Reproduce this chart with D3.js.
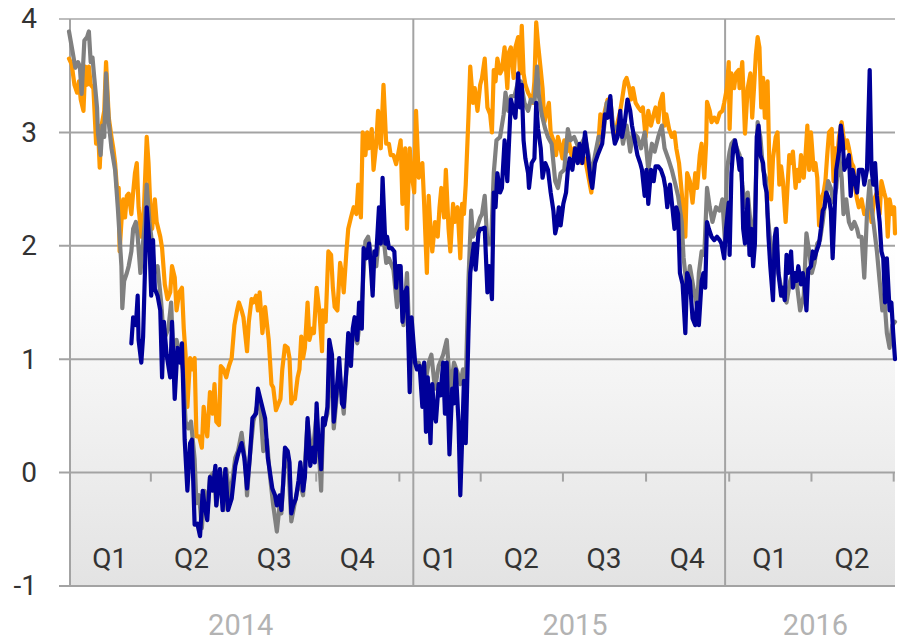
<!DOCTYPE html>
<html>
<head>
<meta charset="utf-8">
<script src="https://cdn.jsdelivr.net/npm/d3@7/dist/d3.min.js"></script>
<style>
  html, body { margin: 0; padding: 0; background: #ffffff; }
  svg { display: block; }
  text { font-family: Roboto, "Noto Sans", sans-serif; }
</style>
</head>
<body>
<svg id="chart" width="910" height="641"></svg>
<script>
// ---- DATA (x = days since 2014-01-01, y = value) ----
const startDate = "2014-01-01";
const totalDays = 914;
const yTicks = [-1, 0, 1, 2, 3, 4];
const yTickLabels = ["-1", "0", "1", "2", "3", "4"];
const quarterLabels = ["Q1", "Q2", "Q3", "Q4", "Q1", "Q2", "Q3", "Q4", "Q1", "Q2"];
const years = ["2014", "2015", "2016"];
const yearBreakDays = [381, 726];
const yearLabelDays = [190, 560, 826];

const seriesOrange = [[0,3.65],[3,3.60],[6,3.42],[9,3.35],[11,3.45],[13,3.29],[16,3.19],[18,3.58],[20,3.42],[22,3.58],[24,3.42],[27,3.39],[30,2.90],[32,3.06],[34,2.69],[36,3.06],[39,3.19],[41,3.62],[44,3.13],[47,2.96],[49,2.86],[51,2.73],[53,2.51],[55,2.51],[56,1.95],[58,2.21],[60,2.41],[62,2.25],[64,2.44],[66,2.46],[69,2.28],[71,2.47],[73,2.64],[75,2.73],[77,2.34],[80,2.08],[83,2.34],[86,2.96],[88,2.73],[90,2.34],[92,2.15],[95,2.41],[97,2.21],[101,2.08],[103,1.98],[106,1.66],[109,1.53],[112,1.59],[114,1.82],[117,1.72],[119,1.43],[122,1.59],[125,1.63],[127,1.27],[129,1.04],[131,0.58],[134,1.01],[136,0.91],[139,1.01],[141,0.32],[144,0.32],[147,0.22],[149,0.58],[151,0.42],[153,0.32],[156,0.71],[159,0.52],[161,0.78],[163,0.45],[166,0.42],[168,0.94],[171,0.91],[174,0.84],[177,0.94],[180,1.01],[183,1.30],[186,1.43],[188,1.50],[191,1.43],[193,1.37],[197,1.07],[199,1.33],[202,1.53],[204,1.50],[207,1.56],[209,1.43],[211,1.59],[214,1.23],[217,1.46],[221,1.17],[224,0.78],[226,0.75],[229,0.55],[232,0.61],[234,0.65],[236,0.91],[239,1.12],[242,1.10],[244,1.01],[246,0.61],[248,0.65],[250,0.65],[253,0.84],[255,0.91],[257,1.20],[259,1.01],[261,1.10],[264,1.50],[266,1.17],[269,1.27],[271,1.23],[274,1.63],[277,1.43],[280,1.07],[281,1.43],[284,1.33],[287,1.95],[290,1.92],[292,1.63],[294,1.46],[297,1.43],[300,1.85],[302,1.76],[304,1.59],[307,1.95],[309,2.15],[312,2.25],[315,2.34],[318,2.28],[320,2.54],[323,2.25],[325,3.0],[328,2.80],[330,3.0],[332,2.86],[335,3.03],[337,2.67],[340,2.90],[342,3.19],[345,2.86],[348,3.42],[351,2.90],[354,2.90],[356,2.80],[359,2.80],[362,2.72],[364,2.80],[367,2.93],[369,2.37],[372,2.86],[374,2.15],[377,2.86],[379,2.64],[382,2.47],[384,3.19],[387,2.60],[389,2.67],[391,2.73],[393,2.37],[396,1.76],[398,2.44],[400,2.15],[402,1.95],[405,2.21],[408,2.08],[410,2.34],[412,2.51],[415,2.25],[417,2.67],[420,2.15],[422,1.95],[425,2.37],[427,2.21],[430,2.34],[433,1.89],[435,2.37],[437,2.28],[439,2.54],[442,3.13],[444,3.58],[447,3.26],[449,3.39],[452,3.19],[455,3.42],[457,3.48],[460,3.65],[463,3.22],[466,3.16],[468,3.0],[470,3.55],[472,3.45],[474,3.65],[477,3.52],[479,3.55],[482,3.75],[485,3.39],[487,3.71],[489,3.75],[492,3.48],[494,3.75],[497,3.84],[499,3.52],[501,3.94],[503,3.52],[505,3.42],[508,3.35],[510,3.32],[513,3.26],[515,3.45],[517,3.97],[519,3.78],[522,3.55],[524,3.39],[526,3.09],[529,3.19],[531,3.26],[533,3.0],[536,2.93],[539,2.80],[541,2.96],[543,2.90],[546,2.77],[548,2.93],[551,2.83],[553,2.93],[556,2.80],[559,2.86],[562,2.77],[564,2.86],[567,2.73],[571,2.77],[575,2.60],[578,2.47],[580,2.67],[583,2.80],[586,2.93],[588,3.16],[590,3.06],[593,3.19],[596,3.29],[599,3.29],[601,3.09],[604,2.96],[607,3.09],[610,3.19],[612,3.29],[615,3.45],[617,3.48],[620,3.39],[622,3.29],[624,3.39],[627,3.26],[630,3.22],[633,3.19],[635,3.22],[638,2.96],[641,3.19],[644,3.06],[647,3.16],[649,3.22],[652,3.09],[654,3.26],[657,3.34],[659,3.06],[661,3.16],[664,3.03],[667,2.96],[670,3.0],[672,2.86],[675,2.73],[678,2.47],[682,2.08],[684,2.64],[687,2.57],[690,2.38],[693,2.64],[695,2.51],[698,2.80],[700,2.90],[703,2.60],[705,2.90],[706,3.27],[709,3.19],[711,3.09],[714,3.13],[717,3.09],[720,3.17],[723,3.19],[725,3.26],[728,3.39],[730,3.62],[731,3.03],[733,3.52],[736,3.39],[738,3.52],[741,3.55],[742,3.39],[745,3.62],[748,2.99],[751,3.39],[754,3.52],[756,3.13],[758,3.39],[760,3.68],[762,3.84],[764,3.75],[766,3.22],[768,3.48],[770,3.13],[773,3.45],[775,2.70],[777,2.41],[779,2.77],[782,2.96],[784,3.0],[786,2.54],[788,2.70],[790,2.57],[793,2.21],[795,2.51],[797,2.80],[799,2.73],[801,2.83],[804,2.51],[806,2.67],[808,2.57],[810,2.80],[813,2.60],[815,2.80],[817,3.06],[819,2.67],[821,3.0],[824,2.67],[826,2.73],[828,2.60],[830,2.18],[832,2.41],[835,2.47],[837,2.57],[839,2.80],[841,3.0],[844,3.03],[846,2.57],[848,2.86],[850,2.77],[852,2.96],[855,3.09],[857,2.96],[859,2.86],[861,2.93],[863,2.86],[866,2.73],[868,2.70],[870,2.51],[872,2.41],[874,2.34],[877,2.41],[880,2.28],[883,2.31],[886,2.34],[888,2.21],[891,2.41],[894,2.47],[897,2.28],[899,2.57],[902,2.47],[904,2.41],[906,2.08],[908,2.41],[911,2.28],[913,2.34],[914,2.11]];

const seriesGrey = [[0,3.89],[4,3.71],[7,3.57],[10,3.62],[12,3.58],[14,3.34],[17,3.81],[20,3.84],[22,3.89],[24,3.62],[26,3.66],[28,3.48],[31,3.22],[32,3.0],[35,2.80],[37,3.06],[39,2.96],[41,3.52],[44,3.09],[47,2.86],[51,2.67],[54,2.34],[56,2.08],[58,1.82],[59,1.45],[61,1.69],[64,1.76],[66,1.82],[69,1.95],[71,2.15],[74,2.21],[76,2.08],[79,1.76],[81,1.95],[84,2.21],[86,2.54],[89,2.21],[92,2.02],[94,1.76],[98,1.82],[102,1.50],[105,1.17],[110,1.27],[113,1.50],[115,1.10],[119,1.17],[123,1.04],[126,0.91],[129,0.45],[132,0.39],[135,0.45],[139,0.12],[141,-0.27],[144,-0.20],[147,-0.49],[150,-0.16],[153,-0.36],[156,-0.04],[160,0.0],[163,-0.29],[167,0.03],[171,-0.33],[174,0.03],[178,-0.23],[184,0.13],[187,0.19],[191,0.35],[195,0.09],[197,-0.20],[200,0.13],[204,0.45],[208,0.58],[211,0.65],[215,0.19],[219,0.29],[222,0.0],[226,-0.29],[230,-0.52],[233,-0.29],[235,-0.36],[239,0.19],[243,0.03],[246,-0.43],[250,-0.26],[255,-0.07],[259,-0.20],[264,0.45],[269,0.13],[274,0.52],[279,-0.16],[281,0.39],[286,0.52],[289,1.10],[293,0.39],[299,0.91],[304,0.52],[309,1.17],[315,1.23],[319,1.14],[324,1.50],[328,2.04],[331,2.08],[335,1.89],[340,1.82],[343,2.08],[348,2.08],[351,1.85],[354,1.89],[359,1.79],[363,1.46],[366,1.76],[370,1.30],[374,1.76],[377,1.10],[382,0.97],[387,0.97],[390,0.91],[394,0.78],[398,0.97],[401,1.04],[405,0.74],[409,0.94],[414,1.04],[418,1.17],[422,0.71],[426,0.97],[430,0.88],[433,0.78],[436,0.91],[439,0.78],[442,1.69],[445,2.31],[447,2.08],[451,2.15],[455,2.25],[457,2.28],[460,2.44],[463,2.02],[467,2.02],[470,2.64],[473,2.93],[477,2.96],[481,3.16],[483,3.35],[486,3.19],[489,3.32],[493,3.32],[497,3.45],[500,3.45],[504,3.26],[508,3.19],[511,3.29],[515,3.26],[518,3.58],[520,3.32],[523,3.16],[527,3.03],[530,2.96],[534,2.90],[538,2.57],[541,2.51],[544,2.64],[548,2.67],[552,3.03],[555,2.93],[559,2.96],[564,2.86],[567,2.90],[571,2.96],[575,2.80],[578,2.60],[582,2.80],[586,2.96],[591,2.96],[595,3.26],[599,3.29],[602,3.06],[606,3.03],[610,3.09],[613,2.90],[617,3.06],[621,2.83],[624,3.0],[629,2.96],[633,2.86],[637,3.0],[641,2.67],[645,2.90],[648,2.83],[652,2.96],[656,3.06],[659,2.86],[663,2.77],[667,2.67],[671,2.54],[674,2.44],[678,2.21],[680,1.90],[684,1.60],[687,1.82],[691,1.63],[695,1.46],[697,1.76],[700,1.95],[703,1.92],[706,2.51],[709,2.34],[712,2.21],[716,2.34],[720,2.31],[723,2.41],[726,2.02],[728,2.67],[731,2.83],[733,2.90],[736,2.93],[739,2.86],[742,2.80],[745,2.54],[748,2.34],[751,2.47],[754,2.21],[757,2.08],[759,2.28],[762,3.09],[765,2.96],[768,2.67],[771,2.60],[773,2.28],[777,1.95],[779,1.76],[782,2.15],[785,1.76],[788,1.63],[791,1.56],[794,1.50],[798,1.69],[801,1.76],[805,1.69],[809,1.43],[813,1.56],[816,2.11],[819,1.95],[822,1.76],[825,1.85],[828,2.02],[831,2.05],[834,2.21],[837,2.41],[840,2.57],[843,2.51],[846,2.38],[849,2.51],[852,2.80],[855,2.60],[857,2.28],[860,2.41],[863,2.21],[866,2.15],[869,2.21],[872,2.15],[874,2.08],[877,2.08],[880,1.72],[883,2.28],[886,2.57],[888,2.34],[891,2.15],[894,1.95],[897,1.69],[900,1.43],[902,1.56],[905,1.23],[908,1.10],[911,1.30],[914,1.33]];

const seriesNavy = [[69,1.14],[71,1.37],[74,1.30],[76,1.56],[77,1.17],[80,0.97],[82,1.20],[84,1.76],[86,2.34],[89,2.02],[91,1.56],[93,2.05],[95,1.62],[98,1.56],[101,1.43],[103,0.84],[105,1.33],[108,1.04],[112,0.84],[114,1.33],[117,0.65],[120,1.10],[123,0.97],[125,1.14],[128,0.29],[131,-0.16],[134,0.26],[136,0.29],[139,-0.46],[142,-0.45],[145,-0.56],[148,-0.16],[150,-0.29],[153,-0.42],[156,-0.04],[159,-0.16],[162,0.06],[163,-0.29],[167,0.03],[170,-0.33],[173,0.03],[176,-0.33],[180,-0.23],[184,0.06],[187,0.16],[191,0.26],[194,0.13],[197,-0.14],[200,0.13],[203,0.48],[207,0.52],[209,0.74],[213,0.61],[217,0.48],[220,0.13],[225,-0.14],[228,-0.20],[230,-0.29],[233,-0.20],[235,-0.33],[237,-0.10],[239,0.22],[242,0.19],[244,0.09],[246,-0.36],[248,-0.29],[251,-0.23],[254,-0.07],[256,0.09],[259,-0.16],[261,-0.04],[264,0.48],[267,0.06],[270,0.22],[272,0.09],[274,0.61],[276,0.29],[279,0.03],[281,0.48],[283,0.42],[286,0.58],[288,1.17],[291,1.04],[293,0.45],[296,0.71],[299,1.01],[302,0.61],[304,0.58],[307,0.91],[309,1.23],[312,0.94],[314,1.27],[316,1.37],[319,1.17],[321,1.50],[324,1.27],[326,1.98],[329,1.89],[332,2.02],[334,1.82],[336,1.56],[338,1.95],[340,1.92],[343,2.34],[345,2.02],[347,2.60],[350,2.02],[352,2.08],[354,1.98],[357,1.98],[360,1.95],[362,1.63],[364,1.82],[367,1.82],[369,1.33],[372,1.59],[374,1.63],[377,0.71],[379,1.37],[381,1.17],[383,0.97],[385,0.91],[388,0.94],[391,0.58],[393,0.97],[395,0.36],[397,0.84],[400,0.26],[402,0.78],[404,0.52],[406,0.45],[409,0.78],[411,0.68],[414,0.97],[416,0.52],[418,0.97],[421,0.16],[424,0.74],[426,0.61],[428,0.91],[431,0.45],[433,-0.20],[435,0.29],[437,0.81],[439,0.26],[442,1.23],[444,1.76],[446,1.89],[448,2.02],[450,1.79],[453,2.11],[455,2.15],[457,2.15],[460,2.16],[463,1.59],[465,1.82],[468,1.53],[470,2.47],[472,2.34],[474,2.64],[477,2.47],[479,2.51],[482,2.93],[485,2.57],[487,2.93],[489,3.29],[492,3.19],[494,3.13],[497,3.52],[499,3.22],[501,3.42],[503,2.93],[505,2.77],[508,2.64],[509,2.51],[512,2.73],[515,2.77],[517,3.26],[519,3.03],[522,2.86],[524,2.60],[527,2.73],[530,2.67],[533,2.47],[536,2.31],[538,2.11],[540,2.18],[542,2.34],[544,2.18],[547,2.37],[550,2.47],[552,2.67],[554,2.77],[557,2.67],[560,2.86],[563,2.73],[565,2.90],[568,2.73],[571,3.0],[574,2.80],[577,2.60],[579,2.51],[582,2.73],[585,2.80],[588,2.86],[590,2.90],[593,3.16],[596,3.13],[599,3.32],[601,3.06],[604,2.90],[607,2.96],[610,3.19],[612,2.96],[615,3.09],[618,3.29],[621,3.19],[623,3.06],[626,2.93],[629,2.80],[632,2.73],[634,2.67],[637,2.44],[639,2.67],[641,2.37],[644,2.67],[647,2.57],[649,2.70],[652,2.70],[655,2.67],[658,2.60],[660,2.51],[662,2.34],[665,2.54],[668,2.31],[670,2.15],[672,2.34],[674,2.28],[676,1.76],[679,1.66],[682,1.23],[684,1.76],[687,1.69],[690,1.36],[693,1.30],[695,1.50],[697,1.30],[700,1.69],[702,1.76],[704,1.63],[706,2.21],[708,2.15],[711,2.08],[714,2.05],[717,2.08],[720,2.05],[722,2.02],[725,1.89],[727,2.15],[730,2.38],[731,1.92],[733,2.64],[735,2.86],[737,2.93],[740,2.80],[742,2.67],[744,2.77],[746,2.15],[748,2.02],[751,2.41],[753,1.92],[755,2.15],[757,1.82],[759,2.02],[761,2.96],[763,3.06],[765,2.80],[768,2.73],[770,2.54],[772,2.47],[774,2.08],[776,1.82],[779,1.52],[781,2.08],[783,2.15],[785,1.76],[788,1.56],[790,1.63],[792,1.52],[794,1.92],[796,1.76],[799,1.95],[801,1.63],[803,1.76],[805,1.69],[807,1.82],[810,1.66],[812,1.76],[814,1.66],[816,1.43],[818,1.79],[821,1.82],[823,1.95],[825,1.89],[827,1.95],[830,2.02],[832,2.15],[834,2.31],[836,2.34],[838,2.47],[841,2.41],[843,2.31],[845,1.89],[847,2.28],[849,2.67],[852,2.83],[854,3.06],[856,2.93],[858,2.67],[861,2.73],[863,2.80],[865,2.44],[867,2.67],[869,2.60],[872,2.47],[874,2.67],[876,2.67],[878,2.67],[880,2.54],[883,2.67],[886,3.55],[888,2.67],[890,2.54],[892,2.73],[894,2.44],[897,2.21],[899,1.95],[901,1.89],[903,1.50],[905,1.89],[908,1.43],[910,1.50],[912,1.23],[914,1.0]];

const seriesList = [
  { name: "orange", color: "#FF9900", data: seriesOrange },
  { name: "grey",   color: "#808080", data: seriesGrey },
  { name: "navy",   color: "#000099", data: seriesNavy }
];

// ---- LAYOUT ----
const plot = { left: 70, right: 895, top: 19, bottom: 586 };

const svg = d3.select("#chart");
const base = d3.timeParse("%Y-%m-%d")(startDate);
const endDate = d3.timeDay.offset(base, totalDays);
const dayToDate = d => d3.timeDay.offset(base, d);

const x = d3.scaleTime().domain([base, endDate]).range([69, plot.right]);
const y = d3.scaleLinear().domain([-1, 4]).range([plot.bottom, plot.top]);

// background gradient
const defs = svg.append("defs");
const grad = defs.append("linearGradient").attr("id", "bg")
  .attr("x1", 0).attr("y1", 0).attr("x2", 0).attr("y2", 1);
grad.append("stop").attr("offset", "0%").attr("stop-color", "#ffffff");
grad.append("stop").attr("offset", "40%").attr("stop-color", "#ffffff");
grad.append("stop").attr("offset", "100%").attr("stop-color", "#e3e3e3");

svg.append("rect")
  .attr("x", plot.left).attr("y", plot.top)
  .attr("width", plot.right - plot.left).attr("height", plot.bottom - plot.top)
  .attr("fill", "url(#bg)");

// horizontal gridlines
svg.append("g").selectAll("line").data(yTicks).join("line")
  .attr("x1", plot.left - 11).attr("x2", plot.right)
  .attr("y1", d => y(d)).attr("y2", d => y(d))
  .attr("stroke", d => d === 4 ? "#bdbdbd" : "#a3a3a3")
  .attr("stroke-width", 2);

// y axis labels via d3 axis
const yAxis = d3.axisLeft(y).tickValues(yTicks)
  .tickFormat((d, i) => yTickLabels[i]).tickSize(0).tickPadding(33);
const gy = svg.append("g").attr("transform", `translate(${plot.left},0)`).call(yAxis);
gy.select(".domain").remove();
gy.selectAll("text")
  .attr("font-family", "Roboto, sans-serif")
  .attr("font-size", 28).attr("font-weight", 400)
  .attr("fill", "#333333");

// left axis line
svg.append("line")
  .attr("x1", plot.left).attr("x2", plot.left)
  .attr("y1", plot.top).attr("y2", plot.bottom)
  .attr("stroke", "#a3a3a3").attr("stroke-width", 2);

// year separators
svg.append("g").selectAll("line").data(yearBreakDays).join("line")
  .attr("x1", d => x(dayToDate(d))).attr("x2", d => x(dayToDate(d)))
  .attr("y1", plot.top).attr("y2", plot.bottom)
  .attr("stroke", "#a3a3a3").attr("stroke-width", 2);

// quarter ticks on zero line
const quarterStarts = d3.timeMonth.every(3).range(base, d3.timeDay.offset(endDate, 1));
const xAxis = d3.axisBottom(x).tickValues(quarterStarts.slice(1)).tickFormat("").tickSizeInner(9).tickSizeOuter(0);
const gx = svg.append("g").attr("transform", `translate(0,${y(0)})`).call(xAxis);
gx.select(".domain").remove();
gx.selectAll(".tick line").attr("stroke", "#a3a3a3").attr("stroke-width", 2);

// series lines
const line = d3.line()
  .x(d => x(dayToDate(d[0])))
  .y(d => y(d[1]))
  .curve(d3.curveLinear);

svg.append("g").selectAll("path").data(seriesList).join("path")
  .attr("d", s => line(s.data))
  .attr("fill", "none")
  .attr("stroke", s => s.color)
  .attr("stroke-width", 4.2)
  .attr("stroke-linejoin", "round")
  .attr("stroke-linecap", "round");

// quarter labels
const quarterMids = quarterLabels.map((q, i) => {
  const a = quarterStarts[i], b = quarterStarts[i + 1];
  return new Date((a.getTime() + b.getTime()) / 2);
});
svg.append("g").selectAll("text").data(quarterLabels).join("text")
  .attr("x", (d, i) => x(quarterMids[i]))
  .attr("y", 568)
  .attr("text-anchor", "middle")
  .attr("font-size", 28).attr("font-weight", 400)
  .attr("fill", "#333333")
  .text(d => d);

// year labels
svg.append("g").selectAll("text").data(years).join("text")
  .attr("x", (d, i) => x(dayToDate(yearLabelDays[i])))
  .attr("y", 635)
  .attr("text-anchor", "middle")
  .attr("font-size", 29).attr("font-weight", 400)
  .attr("fill", "#b3b3b3")
  .text(d => d);
</script>
</body>
</html>
